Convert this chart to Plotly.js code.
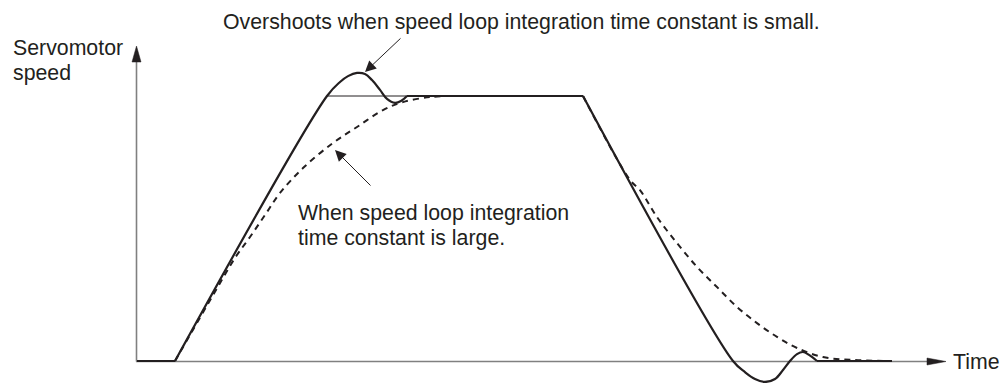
<!DOCTYPE html>
<html>
<head>
<meta charset="utf-8">
<script src="https://cdn.plot.ly/plotly-3.0.1.min.js"></script>
<style>html,body{margin:0;padding:0;background:#fff;}#chart{width:1002px;height:383px;}</style>
</head>
<body>
<div id="chart"></div>
<script>
// Speed response with a small speed-loop integration time constant (overshoot)
const timeSmall  = [0, 1.9, 9.5, 10.15, 10.55, 11.0, 11.4, 11.75, 12.15, 12.5, 12.9, 13.2, 13.5, 22.3, 29.8, 30.4, 30.9, 31.4, 31.9, 32.3, 32.65, 33.0, 33.3, 33.6, 34.0, 37.75];
const speedSmall = [0, 0, 1.0, 1.053, 1.075, 1.087, 1.083, 1.06, 1.023, 0.989, 0.974, 0.981, 1.0, 1.0, 0, -0.042, -0.068, -0.079, -0.068, -0.034, 0, 0.026, 0.034, 0.023, 0, 0];
// Speed response with a large speed-loop integration time constant (sluggish)
const timeLarge  = [1.9, 3.95, 4.9, 5.65, 6.4, 7.15, 8.3, 9.8, 11.0, 12.3, 13.3, 14.65, 15.65, 22.3, 24.65, 25.15, 26.0, 27.0, 28.0, 29.0, 30.0, 31.0, 32.0, 33.0, 34.3, 35.8, 37.65];
const speedLarge = [0, 0.268, 0.389, 0.468, 0.551, 0.634, 0.728, 0.823, 0.883, 0.947, 0.977, 0.996, 1.0, 1.0, 0.683, 0.645, 0.543, 0.445, 0.355, 0.279, 0.204, 0.143, 0.091, 0.049, 0.015, 0.004, 0];
// Speed command reference at the top of the ramp
const refTime  = [9.5, 13.5];
const refSpeed = [1, 1];

const labelY = ["Servomotor", "speed"];
const labelX = "Time";
const noteSmall = "Overshoots when speed loop integration time constant is small.";
const noteLarge = ["When speed loop integration", "time constant is large."];

const W = 1002, H = 383;
const ink = "#231f20", axisGray = "#808080";
const FONT = "Liberation Sans, Arial, Helvetica, sans-serif";
const FS = 21.3;
// layout helpers: pixel -> data / paper
const tX = px => (px - 137) / 20;
const vY = py => (361 - py) / 265;
const pX = px => px / W;
const pY = py => 1 - py / H;

// draw a piece of a series (index a..b) with a given line style
const piece = (xs, ys, a, b, shape, line) => ({
  x: xs.slice(a, b + 1), y: ys.slice(a, b + 1), mode: "lines",
  line: Object.assign({shape: shape, smoothing: 1}, line), hoverinfo: "skip"
});
const solid = {color: ink, width: 2.2};
const dashed = {color: ink, width: 2, dash: "6px,5px"};

const traces = [
  piece(timeLarge, speedLarge, 0, 12, "spline", dashed),
  piece(timeLarge, speedLarge, 12, 13, "linear", dashed),
  piece(timeLarge, speedLarge, 13, 26, "spline", dashed),
  {x: refTime, y: refSpeed, mode: "lines", line: {color: ink, width: 1}, hoverinfo: "skip"},
  piece(timeSmall, speedSmall, 0, 1, "linear", solid),
  piece(timeSmall, speedSmall, 1, 12, "spline", solid),
  piece(timeSmall, speedSmall, 12, 13, "linear", solid),
  piece(timeSmall, speedSmall, 13, 24, "spline", solid),
  piece(timeSmall, speedSmall, 24, 25, "linear", solid)
];

const shapes = [
  // y axis
  {type: "line", xref: "x", yref: "y", x0: tX(136.5), x1: tX(136.5), y0: vY(361.5), y1: vY(61), line: {color: axisGray, width: 1.6}, layer: "below"},
  {type: "path", xref: "x", yref: "y",
   path: `M ${tX(132)} ${vY(62)} L ${tX(136.5)} ${vY(46)} L ${tX(141)} ${vY(62)} Z`,
   fillcolor: ink, line: {color: ink, width: 0.5}},
  // x axis
  {type: "line", xref: "x", yref: "y", x0: tX(136), x1: tX(929), y0: vY(361.5), y1: vY(361.5), line: {color: axisGray, width: 1.6}, layer: "below"},
  {type: "path", xref: "x", yref: "y",
   path: `M ${tX(927)} ${vY(358)} L ${tX(946)} ${vY(361.5)} L ${tX(927)} ${vY(365)} Z`,
   fillcolor: ink, line: {color: ink, width: 0.5}}
];

const txt = (text, x, baseline) => ({
  text: text, xref: "paper", yref: "paper", x: pX(x), y: pY(baseline - 6.5),
  xanchor: "left", yanchor: "middle", showarrow: false,
  font: {family: FONT, size: FS, color: ink}
});

const annotations = [
  txt(labelY[0], 11, 54),
  txt(labelY[1], 11, 79),
  txt(noteSmall, 221, 28),
  txt(noteLarge[0], 296, 219),
  txt(noteLarge[1], 296, 245),
  txt(labelX, 951, 368),
  // pointer arrows
  {text: "", xref: "paper", yref: "paper", x: pX(365), y: pY(72), ax: 37, ay: -35,
   showarrow: true, arrowhead: 2, arrowsize: 2.2, arrowwidth: 1, arrowcolor: ink, standoff: 0},
  {text: "", xref: "paper", yref: "paper", x: pX(335), y: pY(150), ax: 37, ay: 37,
   showarrow: true, arrowhead: 2, arrowsize: 2.2, arrowwidth: 1, arrowcolor: ink, standoff: 0}
];

const layout = {
  width: W, height: H,
  margin: {l: 0, r: 0, t: 0, b: 0},
  paper_bgcolor: "#ffffff", plot_bgcolor: "#ffffff",
  showlegend: false,
  xaxis: {range: [tX(0), tX(W)], visible: false, fixedrange: true},
  yaxis: {range: [vY(H), vY(0)], visible: false, fixedrange: true},
  shapes: shapes,
  annotations: annotations
};

Plotly.newPlot("chart", traces, layout, {staticPlot: true, displayModeBar: false});
</script>
</body>
</html>
